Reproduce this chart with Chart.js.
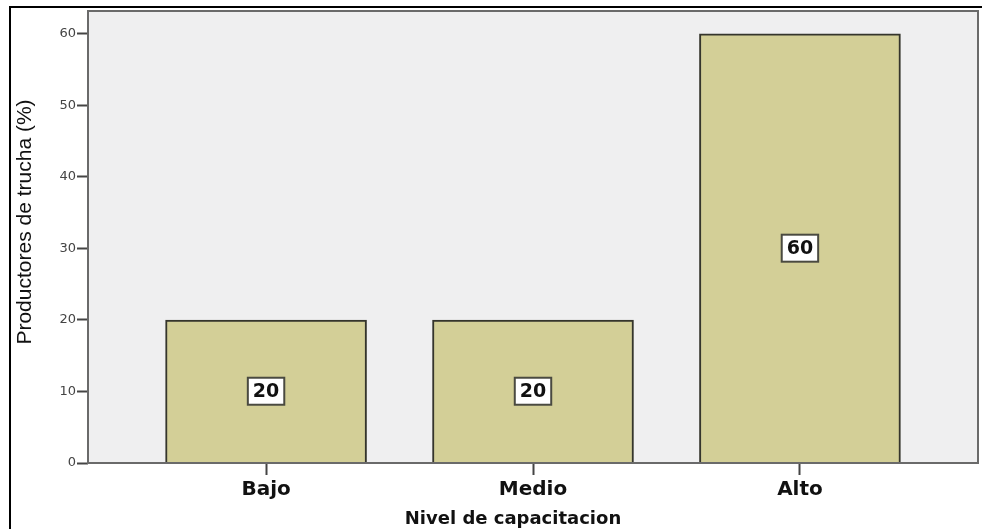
<!DOCTYPE html>
<html>
<head>
<meta charset="utf-8">
<title>Nivel de capacitacion</title>
<script src="https://cdn.jsdelivr.net/npm/chart.js@4"></script>
<style>
    html, body { margin: 0; padding: 0; background: #fff; }
    #wrap { width: 982px; height: 529px; }
</style>
</head>
<body>
<div id="wrap"><canvas id="nivel-chart"></canvas></div>
<script>
var categories = ['Bajo', 'Medio', 'Alto'];
var percentages = [20, 20, 60];
var yTickValues = [0, 10, 20, 30, 40, 50, 60];
var xTitle = 'Nivel de capacitacion';
var yTitle = 'Productores de trucha (%)';

var barFill = '#d3cf97';
var barEdge = '#35352c';
var plotBack = '#efeff0';

// white page, black frame on top/left, grey plot panel
var framePlugin = {
    id: 'frame',
    beforeDraw(chart) {
        const ctx = chart.ctx;
        const area = chart.chartArea;
        ctx.save();
        ctx.fillStyle = '#fff';
        ctx.fillRect(0, 0, chart.width, chart.height);
        ctx.fillStyle = '#000';
        ctx.fillRect(9, 6, chart.width - 9, 2);
        ctx.fillRect(9, 6, 2, chart.height - 6);
        ctx.fillStyle = plotBack;
        ctx.fillRect(area.left, area.top, area.right - area.left, area.bottom - area.top);
        ctx.restore();
    },
    afterDatasetsDraw(chart) {
        const ctx = chart.ctx;
        const area = chart.chartArea;
        ctx.save();
        ctx.strokeStyle = '#6a6a6a';
        ctx.lineWidth = 2;
        ctx.strokeRect(area.left, area.top, area.right - area.left, area.bottom - area.top);

        // axis titles, both sit a bit off the panel centre like SPSS output
        ctx.fillStyle = '#111';
        ctx.textAlign = 'center';
        ctx.textBaseline = 'middle';
        ctx.font = 'bold 18px "DejaVu Sans"';
        ctx.fillText(xTitle, (area.left + area.right) / 2 - 20, 519);

        ctx.translate(25, (area.top + area.bottom) / 2 - 15);
        ctx.rotate(-Math.PI / 2);
        ctx.font = '21px "Liberation Sans"';
        ctx.fillText(yTitle, 0, 0);
        ctx.restore();
    }
};

// boxed value in the middle of each bar
var valueBoxPlugin = {
    id: 'valueBox',
    afterDraw(chart) {
        const ctx = chart.ctx;
        const meta = chart.getDatasetMeta(0);
        ctx.save();
        ctx.font = 'bold 19px "DejaVu Sans"';
        ctx.textAlign = 'center';
        ctx.textBaseline = 'middle';
        meta.data.forEach((bar, i) => {
            const text = String(percentages[i]);
            const cx = bar.x;
            const cy = (bar.y + bar.base) / 2;
            const w = ctx.measureText(text).width + 10;
            const h = 27;
            ctx.fillStyle = '#fff';
            ctx.fillRect(cx - w / 2, cy - h / 2, w, h);
            ctx.strokeStyle = '#4a4a40';
            ctx.lineWidth = 2;
            ctx.strokeRect(cx - w / 2, cy - h / 2, w, h);
            ctx.fillStyle = '#111';
            ctx.fillText(text, cx, cy + 1);
        });
        ctx.restore();
    }
};

var barData = categories.map((c, i) => ({ x: i, y: percentages[i] }));

new Chart(document.getElementById('nivel-chart'), {
    type: 'bar',
    data: {
        datasets: [{
            label: yTitle,
            data: barData,
            backgroundColor: barFill,
            borderColor: barEdge,
            borderWidth: 2,
            barThickness: 201
        }]
    },
    options: {
        responsive: true,
        maintainAspectRatio: false,
        animation: false,
        layout: {
            padding: { top: 11, right: 4, left: 0, bottom: 0 }
        },
        plugins: {
            legend: { display: false },
            tooltip: { enabled: false }
        },
        scales: {
            x: {
                type: 'linear',
                min: -0.667,
                max: 2.667,
                offset: false,
                afterBuildTicks: scale => {
                    scale.ticks = categories.map((c, i) => ({ value: i }));
                },
                afterFit: scale => { scale.height = 66; },
                border: { display: false },
                grid: {
                    offset: false,
                    drawOnChartArea: false,
                    tickLength: 12,
                    tickColor: '#444',
                    tickWidth: 2
                },
                ticks: {
                    autoSkip: false,
                    maxRotation: 0,
                    padding: 3,
                    color: '#111',
                    font: { family: '"DejaVu Sans"', size: 20, weight: 'bold' },
                    callback: value => categories[value] !== undefined ? categories[value] : ''
                },
                title: { display: false }
            },
            y: {
                min: 0,
                max: 63.2,
                afterBuildTicks: scale => {
                    scale.ticks = yTickValues.map(v => ({ value: v }));
                },
                afterFit: scale => { scale.width = 88; },
                border: { display: false },
                grid: {
                    drawOnChartArea: false,
                    tickLength: 11,
                    tickColor: '#444',
                    tickWidth: 2
                },
                ticks: {
                    padding: 1,
                    color: '#444',
                    font: { family: '"DejaVu Sans"', size: 13 }
                },
                title: { display: false }
            }
        }
    },
    plugins: [framePlugin, valueBoxPlugin]
});
</script>
</body>
</html>
